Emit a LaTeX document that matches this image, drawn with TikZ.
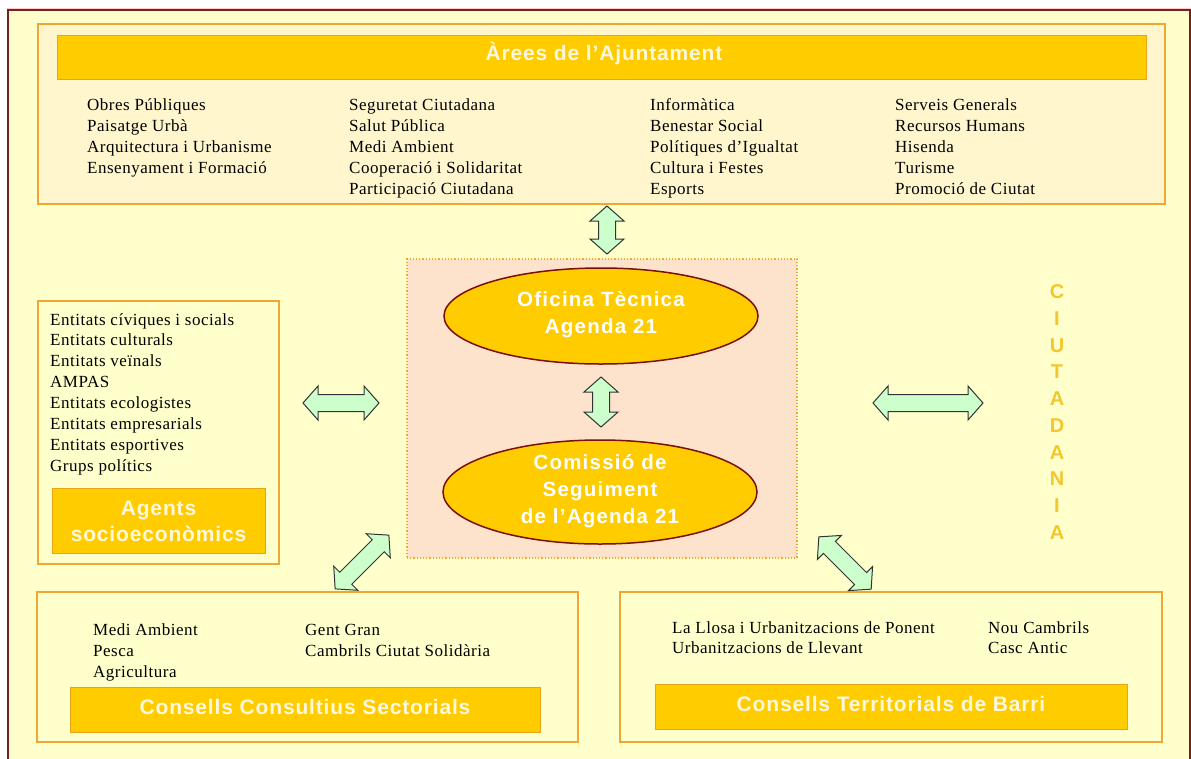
\documentclass[tikz,border=0pt]{standalone}
\usepackage{fontspec}
\setmainfont{Liberation Serif}[LetterSpace=3]
\newfontfamily\titlefont{Liberation Sans}[LetterSpace=4]
\newfontfamily\elltfont{Liberation Sans}[LetterSpace=6]
\newfontfamily\sansplain{Liberation Sans}
\usetikzlibrary{shapes.geometric}
\definecolor{bg}{HTML}{FFFFCC}
\definecolor{topfill}{HTML}{FFF6CE}
\definecolor{orangeline}{HTML}{F0A535}
\definecolor{barfill}{HTML}{FFCC00}
\definecolor{barline}{HTML}{E8A317}
\definecolor{peach}{HTML}{FDE2CC}
\definecolor{framecol}{HTML}{7A1E1E}
\definecolor{ellline}{HTML}{7B0E0E}
\definecolor{arrowfill}{HTML}{CCFFCC}
\definecolor{titletext}{HTML}{FFF8DC}
\definecolor{ciu}{HTML}{F5C52E}
\newcommand\blockarrow[3]{%
  \draw[arr, shift={(#1)}, rotate=#2]
    (-#3,0) -- (-#3+15,-17) -- (-#3+15,-8.5) -- (#3-15,-8.5) -- (#3-15,-17)
    -- (#3,0) -- (#3-15,17) -- (#3-15,8.5) -- (-#3+15,8.5) -- (-#3+15,17) -- cycle;}
\tikzset{
  box/.style={draw=orangeline, line width=2pt, fill=bg, inner sep=0pt, outer sep=0pt, anchor=north west},
  bar/.style={draw=barline, line width=1pt, fill=barfill, inner sep=0pt, outer sep=0pt, anchor=north west},
  ttl/.style={font=\titlefont\bfseries\fontsize{21}{26}\selectfont, text=titletext, align=center, inner sep=0pt},
  item/.style={font=\fontsize{17}{21}\selectfont, inner sep=0pt, anchor=base west},
  ell/.style={ellipse, draw=ellline, line width=1.5pt, fill=barfill, inner sep=0pt},
  ellt/.style={font=\elltfont\bfseries\fontsize{20.5}{27}\selectfont, text=white, align=center, inner sep=0pt},
  arr/.style={draw=black!80, line width=1pt, fill=arrowfill, line join=miter},
}
\begin{document}
\begin{tikzpicture}[x=1pt,y=-1pt]
\useasboundingbox (0,0) rectangle (1191,758);
\fill[white] (0,0) rectangle (1191,758);
% outer frame
\draw[red!20, line width=1pt] (7,8) -- (1195,8);
\draw[framecol, line width=1.8pt, fill=bg] (8,10) rectangle (1190,775);

% top box
\node[box, fill=topfill, minimum width=1127pt, minimum height=180pt] (areas) at (38,24) {};
\node[bar, minimum width=1089pt, minimum height=44pt] (areasbar) at (57,35) {};
\node[ttl] (areast) at (604,53) {Àrees de l’Ajuntament};
\foreach \t [count=\i] in {Obres Públiques, Paisatge Urbà, Arquitectura i Urbanisme, Ensenyament i Formació}
  \node[item] (ca\i) at (87,{110+21*(\i-1)}) {\t};
\foreach \t [count=\i] in {Seguretat Ciutadana, Salut Pública, Medi Ambient, Cooperació i Solidaritat, Participació Ciutadana}
  \node[item] (cb\i) at (349,{110+21*(\i-1)}) {\t};
\foreach \t [count=\i] in {Informàtica, Benestar Social, Polítiques d’Igualtat, Cultura i Festes, Esports}
  \node[item] (cc\i) at (650,{110+21*(\i-1)}) {\t};
\foreach \t [count=\i] in {Serveis Generals, Recursos Humans, Hisenda, Turisme, Promoció de Ciutat}
  \node[item] (cd\i) at (895,{110+21*(\i-1)}) {\t};

% center box
\node[box, draw=orangeline, line width=1.2pt, dotted, fill=peach, minimum width=390pt, minimum height=299pt] (center) at (407,259) {};
\node[ell, minimum width=314pt, minimum height=96pt] (oficina) at (601,316) {};
\node[ellt] (oficinat) at (601,315) {Oficina Tècnica\\Agenda 21};
\node[ell, minimum width=314pt, minimum height=104pt] (comissio) at (600,492) {};
\node[ellt] (comissiot) at (600,491) {Comissió de\\Seguiment\\de l’Agenda 21};

% left box
\node[box, minimum width=241pt, minimum height=263pt] (agents) at (38,301) {};
\foreach \t [count=\i] in {Entitats cíviques i socials, Entitats culturals, Entitats veïnals, AMPAS, Entitats ecologistes, Entitats empresarials, Entitats esportives, Grups polítics}
  \node[item] (ag\i) at (50,{325+20.9*(\i-1)}) {\t};
\node[bar, minimum width=213pt, minimum height=65pt] (agentsbar) at (52,488) {};
\node[ttl] (agentst) at (158.5,521) {Agents\\socioeconòmics};

% bottom left box
\node[box, minimum width=541pt, minimum height=150pt] (sect) at (37,592) {};
\foreach \t [count=\i] in {Medi Ambient, Pesca, Agricultura}
  \node[item] (sa\i) at (93,{635+21*(\i-1)}) {\t};
\foreach \t [count=\i] in {Gent Gran, Cambrils Ciutat Solidària}
  \node[item] (sb\i) at (305,{635+21*(\i-1)}) {\t};
\node[bar, minimum width=470pt, minimum height=45pt] (sectbar) at (70,687) {};
\node[ttl] (sectt) at (305,707) {Consells Consultius Sectorials};

% bottom right box
\node[box, minimum width=542pt, minimum height=150pt] (terr) at (620,592) {};
\foreach \t [count=\i] in {La Llosa i Urbanitzacions de Ponent, Urbanitzacions de Llevant}
  \node[item] (ta\i) at (672,{633+20.5*(\i-1)}) {\t};
\foreach \t [count=\i] in {Nou Cambrils, Casc Antic}
  \node[item] (tb\i) at (988,{633+20.5*(\i-1)}) {\t};
\node[bar, minimum width=472pt, minimum height=45pt] (terrbar) at (655,684) {};
\node[ttl] (terrt) at (891,704) {Consells Territorials de Barri};

% CIUTADANIA
\node[font=\sansplain\bfseries\fontsize{20}{26.7}\selectfont, text=ciu, align=center, inner sep=0pt] (ciutadania) at (1057,412) {C\\I\\U\\T\\A\\D\\A\\N\\I\\A};

% block arrows
\coordinate (a1) at (607,230);
\coordinate (a2) at (601,402);
\coordinate (a3) at (341,403);
\coordinate (a4) at (928,403);
\coordinate (a5) at (362,562);
\coordinate (a6) at (845,563);
\blockarrow{a1}{90}{24}
\blockarrow{a2}{90}{25}
\blockarrow{a3}{0}{38}
\blockarrow{a4}{0}{55}
\blockarrow{a5}{45}{38}
\blockarrow{a6}{-45}{37}
\end{tikzpicture}
\end{document}
